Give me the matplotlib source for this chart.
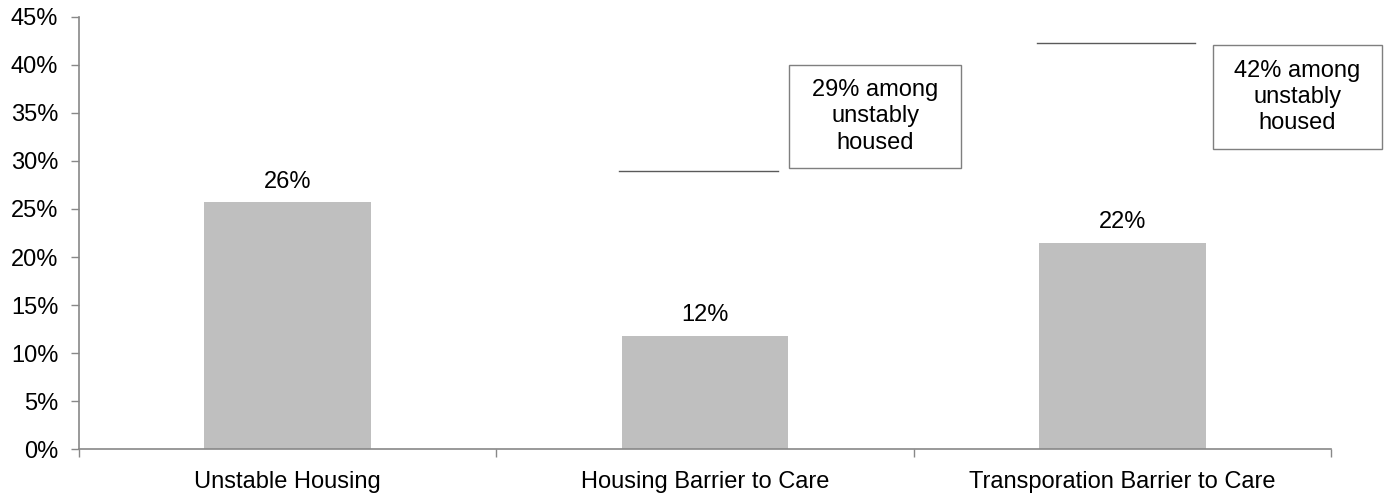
import matplotlib
matplotlib.use("Agg")
import matplotlib.pyplot as plt
from matplotlib.patches import Rectangle
from matplotlib.ticker import FuncFormatter, MultipleLocator

categories = ["Unstable Housing", "Housing Barrier to Care", "Transporation Barrier to Care"]
values = [25.7, 11.8, 21.5]
value_labels = ["26%", "12%", "22%"]

# Share among the unstably housed, drawn as a reference line over each bar
unstable_share = [None, 29.0, 42.3]
unstable_labels = [None, "29% among\nunstably\nhoused", "42% among\nunstably\nhoused"]

FS = 17
plt.rcParams["font.family"] = ["Liberation Sans", "DejaVu Sans"]
plt.rcParams["font.size"] = FS

fig = plt.figure(figsize=(13.87, 4.94), dpi=100)
ax = fig.add_axes([79 / 1387, 1 - 449 / 494, (1331 - 79) / 1387, (449 - 17) / 494])

x = list(range(len(categories)))
ax.bar(x, values, width=0.4, color="#bfbfbf", zorder=2)

for xi, v, lab in zip(x, values, value_labels):
    ax.annotate(lab, (xi, v), xytext=(0, 7), textcoords="offset points",
                ha="center", va="bottom", fontsize=FS, color="#000000")

# Reference lines and callout boxes
box_geom = {1: (1.201, 1.614, 29.3, 40.0), 2: (2.217, 2.622, 31.2, 42.1)}
for i, share in enumerate(unstable_share):
    if share is None:
        continue
    ax.plot([i - 0.205, i + 0.175], [share, share], color="#5a5a5a", lw=1.0, zorder=3,
            clip_on=False)
    x0, x1, y0, y1 = box_geom[i]
    ax.add_patch(Rectangle((x0, y0), x1 - x0, y1 - y0, fill=False, edgecolor="#7f7f7f",
                           lw=1.0, clip_on=False, zorder=3))
    ax.text((x0 + x1) / 2, (y0 + y1) / 2, unstable_labels[i], ha="center", va="center",
            fontsize=FS, linespacing=1.25, color="#000000")

ax.set_xlim(-0.5, 2.5)
ax.set_ylim(0, 45)
ax.yaxis.set_major_locator(MultipleLocator(5))
ax.yaxis.set_major_formatter(FuncFormatter(lambda v, p: f"{v:.0f}%"))

ax.set_xticks(x)
ax.set_xticklabels(categories)
ax.set_xticks([-0.5, 0.5, 1.5, 2.5], minor=True)
ax.tick_params(axis="x", which="major", length=0, pad=16, labelsize=FS)
ax.tick_params(axis="x", which="minor", length=6, color="#888888", width=1)
ax.tick_params(axis="y", length=6, color="#888888", width=1, pad=9, labelsize=FS)

for side in ["top", "right"]:
    ax.spines[side].set_visible(False)
for side in ["left", "bottom"]:
    ax.spines[side].set_color("#888888")
    ax.spines[side].set_linewidth(1.2)

fig.savefig("out.png", dpi=100)
